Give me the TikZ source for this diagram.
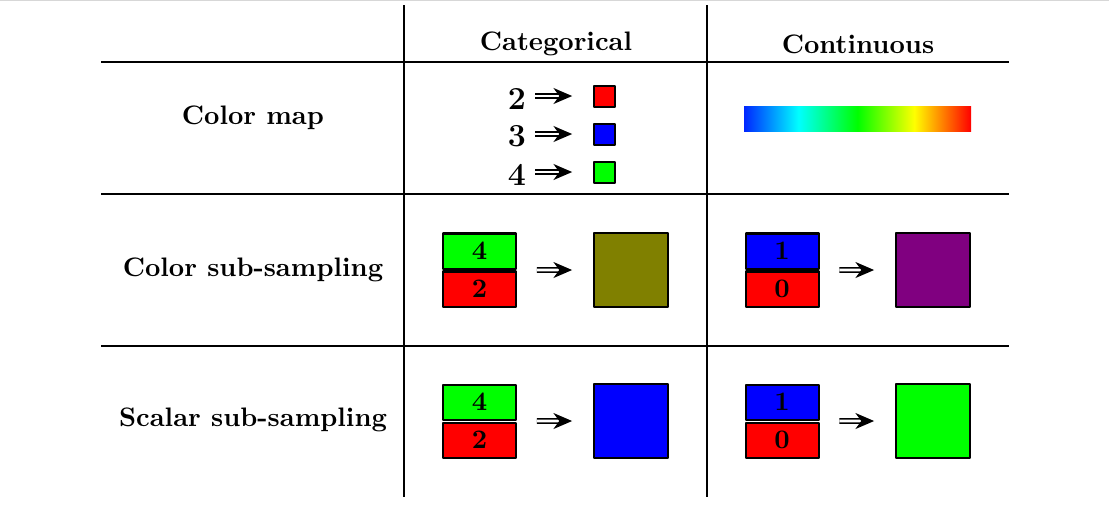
\documentclass[tikz,border=0pt]{standalone}
\usetikzlibrary{arrows.meta,calc}

\definecolor{olivemix}{RGB}{128,128,0}
\definecolor{purplemix}{RGB}{128,0,128}
\definecolor{puregreen}{RGB}{0,255,0}
\definecolor{pureblue}{RGB}{0,0,255}
\definecolor{purered}{RGB}{255,0,0}
\definecolor{framegray}{RGB}{215,215,215}

% jet-like colour bar (blue - cyan - green - yellow - red)
\pgfdeclarehorizontalshading{jetbar}{100bp}{%
  rgb(0bp)=(0,0.15,1); rgb(25bp)=(0,0.15,1); rgb(37bp)=(0,1,1);
  rgb(50bp)=(0,1,0); rgb(62.5bp)=(1,1,0); rgb(75bp)=(1,0,0); rgb(100bp)=(1,0,0)}

\tikzset{
  tablerule/.style={line width=0.8pt},
  rowtext/.style={font=\bfseries},
  keytext/.style={font=\large\bfseries},
  swatch/.style={draw,line width=0.75pt,inner sep=0pt,minimum size=7.85pt},
  halfcell/.style={draw,line width=0.75pt,inner sep=0pt,minimum width=27.3pt,
    minimum height=13.1pt,font=\bfseries},
  mixcell/.style={draw,line width=0.75pt,inner sep=0pt,minimum size=27.7pt},
  yields/.style={double,double distance=1.1pt,line width=0.5pt,
    -{Stealth[length=7pt,width=6pt,inset=2.2pt]},
    shorten <=7.4pt,shorten >=7.8pt}
}

\begin{document}
\begin{tikzpicture}[x=0.374pt,y=-0.374pt,line join=round]
  \useasboundingbox (0,0) rectangle (1109,526);
  \draw[framegray,line width=0.4pt] (0,0.8) -- (1109,0.8);

  % Table rules
  \draw[tablerule] (404,5) -- (404,497);
  \draw[tablerule] (707,5) -- (707,497);
  \draw[tablerule] (101,62) -- (1009,62);
  \draw[tablerule] (101,194) -- (1009,194);
  \draw[tablerule] (101,346) -- (1009,346);

  % Column and row headings
  \node[rowtext] (hcat) at (556,43.4) {Categorical};
  \node[rowtext] (hcon) at (858,44) {Continuous};
  \node[rowtext] (rmap) at (253,118) {Color map};
  \node[rowtext] (rcol) at (253,270) {Color sub-sampling};
  \node[rowtext] (rsca) at (253,420) {Scalar sub-sampling};

  % Categorical colour map
  \node[keytext] (k2) at (517,98.5) {2};
  \node[keytext] (k3) at (517,136.5) {3};
  \node[keytext] (k4) at (517,174.5) {4};
  \node[swatch,fill=purered] (s2) at (604.5,96) {};
  \node[swatch,fill=pureblue] (s3) at (604.5,134) {};
  \node[swatch,fill=puregreen] (s4) at (604.5,172) {};
  \draw[yields,shorten <=0pt] (k2.east |- s2.west) -- (s2.west);
  \draw[yields,shorten <=0pt] (k3.east |- s3.west) -- (s3.west);
  \draw[yields,shorten <=0pt] (k4.east |- s4.west) -- (s4.west);

  % Continuous colour map
  \node[shade,shading=jetbar,inner sep=0pt,minimum width=84.9pt,
    minimum height=9pt] (bar) at (857.5,119) {};

  % Color sub-sampling
  \node[halfcell,fill=puregreen] (ccA) at (479.5,251) {4};
  \node[halfcell,fill=purered] (ccB) at (479.5,289) {2};
  \node[mixcell,fill=olivemix] (ccM) at (631,270) {};
  \draw[yields] ($(ccA.south east)!0.5!(ccB.north east)$) -- (ccM.west);

  \node[halfcell,fill=pureblue] (cnA) at (782,251) {1};
  \node[halfcell,fill=purered] (cnB) at (782,289) {0};
  \node[mixcell,fill=purplemix] (cnM) at (933,270) {};
  \draw[yields] ($(cnA.south east)!0.5!(cnB.north east)$) -- (cnM.west);

  % Scalar sub-sampling
  \node[halfcell,fill=puregreen] (scA) at (479.5,402) {4};
  \node[halfcell,fill=purered] (scB) at (479.5,440) {2};
  \node[mixcell,fill=pureblue] (scM) at (631,421) {};
  \draw[yields] ($(scA.south east)!0.5!(scB.north east)$) -- (scM.west);

  \node[halfcell,fill=pureblue] (snA) at (782,402) {1};
  \node[halfcell,fill=purered] (snB) at (782,440) {0};
  \node[mixcell,fill=puregreen] (snM) at (933,421) {};
  \draw[yields] ($(snA.south east)!0.5!(snB.north east)$) -- (snM.west);
\end{tikzpicture}
\end{document}
